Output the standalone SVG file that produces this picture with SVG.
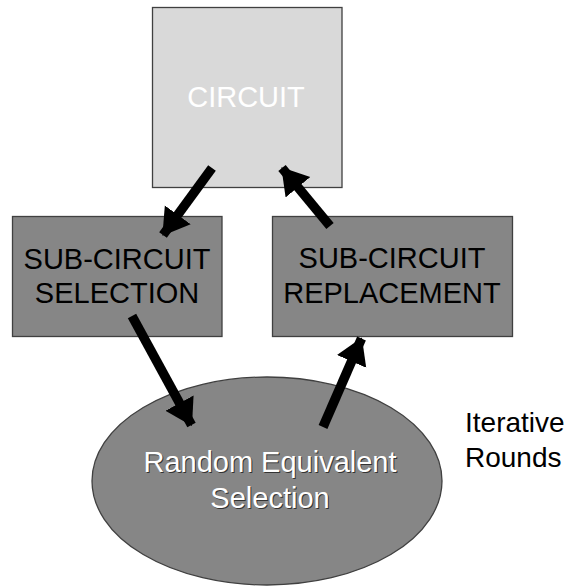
<svg xmlns="http://www.w3.org/2000/svg" width="570" height="586" viewBox="0 0 570 586">
<style>
.box{stroke:#404040;stroke-width:1.3}
.t{font-family:"Liberation Sans",Arial,sans-serif;font-size:29px;text-anchor:middle}
.conn line{stroke:#000;stroke-width:9.5}
</style>
<defs>
<marker id="ah" markerUnits="userSpaceOnUse" markerWidth="30" markerHeight="34" refX="25" refY="16" orient="auto">
<path d="M0,0 L26,16 L0,32 Z" fill="#000"/>
</marker>
</defs>
<rect width="570" height="586" fill="#fff"/>
<g id="circuit">
<rect class="box" x="152.5" y="7.5" width="189.5" height="180" fill="#d9d9d9"/>
<text class="t" x="246" y="107" fill="#fff">CIRCUIT</text>
</g>
<g id="selection">
<rect class="box" x="12.5" y="216.5" width="209.5" height="120" fill="#868686"/>
<text class="t" x="117" y="269" fill="#000">SUB-CIRCUIT</text>
<text class="t" x="117" y="303" fill="#000">SELECTION</text>
</g>
<g id="replacement">
<rect class="box" x="272.5" y="216.5" width="240" height="120" fill="#868686"/>
<text class="t" x="392" y="268" fill="#000">SUB-CIRCUIT</text>
<text class="t" x="392" y="303" fill="#000">REPLACEMENT</text>
</g>
<g id="random">
<ellipse class="box" cx="267" cy="481" rx="175" ry="104" fill="#868686"/>
<text class="t" x="271" y="473" fill="#333">Random Equivalent</text>
<text class="t" x="271" y="509" fill="#333">Selection</text>
<text class="t" x="270" y="472" fill="#fff">Random Equivalent</text>
<text class="t" x="270" y="508" fill="#fff">Selection</text>
</g>
<g id="label">
<text x="465" y="432" font-family="Liberation Sans,Arial,sans-serif" font-size="28" fill="#000">Iterative</text>
<text x="465" y="467" font-family="Liberation Sans,Arial,sans-serif" font-size="28" fill="#000">Rounds</text>
</g>
<g class="conn" id="connectors">
<line x1="212" y1="168" x2="163" y2="235" marker-end="url(#ah)"/>
<line x1="330" y1="226" x2="282" y2="168" marker-end="url(#ah)"/>
<line x1="132" y1="316" x2="191.5" y2="425" marker-end="url(#ah)"/>
<line x1="323" y1="427" x2="361.5" y2="338.5" marker-end="url(#ah)"/>
</g>
</svg>
